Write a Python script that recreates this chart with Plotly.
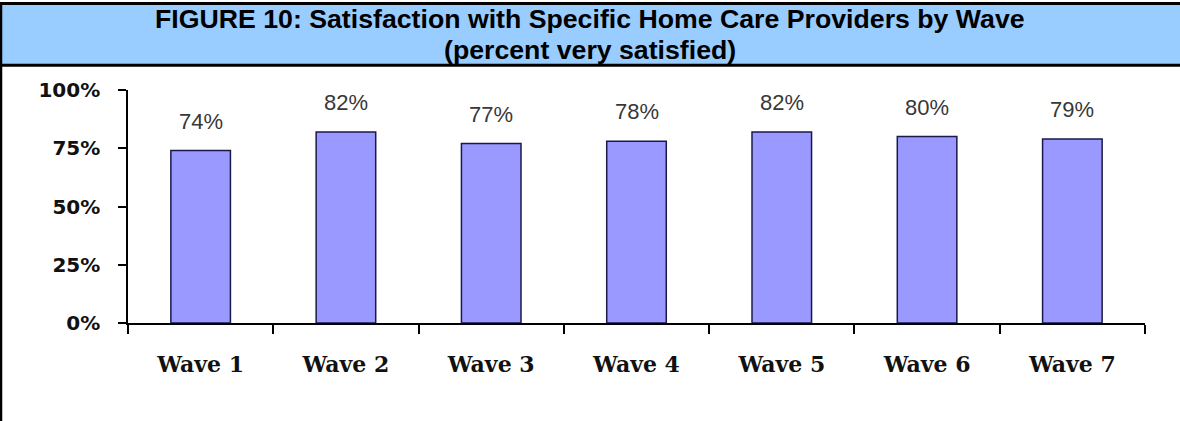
import plotly.graph_objects as go

categories = ["Wave 1", "Wave 2", "Wave 3", "Wave 4", "Wave 5", "Wave 6", "Wave 7"]
values = [74, 82, 77, 78, 82, 80, 79]
value_labels = ["74%", "82%", "77%", "78%", "82%", "80%", "79%"]
y_ticks = [0, 25, 50, 75, 100]
y_tick_labels = ["0%", "25%", "50%", "75%", "100%"]
title_line1 = "FIGURE 10: Satisfaction with Specific Home Care Providers by Wave"
title_line2 = "(percent very satisfied)"

W, H = 1180, 421
L, R, T, B = 128, 35, 90, 98
pw = W - L - R
ph = H - T - B


def px(x):
    return (x - L) / pw


def py(y):
    return (H - B - y) / ph


fig = go.Figure()
fig.add_trace(go.Bar(
    x=categories, y=values,
    marker=dict(color="#9999FF", line=dict(color="#1a1a4a", width=1.5)),
    width=0.41,
    hoverinfo="skip",
))

annotations = []
for c, v, t in zip(categories, values, value_labels):
    annotations.append(dict(
        x=c, y=v, xref="x", yref="y", text=t, showarrow=False,
        yanchor="bottom", yshift=15,
        font=dict(family="Liberation Sans", size=22, color="#383838"),
    ))

annotations.append(dict(
    x=px(590), y=py(19), xref="paper", yref="paper", text="<b>" + title_line1 + "</b>",
    showarrow=False, xanchor="center", yanchor="middle",
    font=dict(family="Liberation Sans", size=26.7, color="#000000"),
))
annotations.append(dict(
    x=px(590), y=py(50), xref="paper", yref="paper", text="<b>" + title_line2 + "</b>",
    showarrow=False, xanchor="center", yanchor="middle",
    font=dict(family="Liberation Sans", size=26.7, color="#000000"),
))

shapes = [
    dict(type="rect", xref="paper", yref="paper",
         x0=px(1), x1=px(1300), y0=py(65), y1=py(4),
         fillcolor="#99CCFF", line=dict(width=0), layer="below"),
    dict(type="line", xref="paper", yref="paper",
         x0=px(0), x1=px(1300), y0=py(3.5), y1=py(3.5),
         line=dict(color="#000000", width=3)),
    dict(type="line", xref="paper", yref="paper",
         x0=px(0), x1=px(1300), y0=py(65.3), y1=py(65.3),
         line=dict(color="#000000", width=3)),
    dict(type="line", xref="paper", yref="paper",
         x0=px(1), x1=px(1), y0=py(2), y1=py(430),
         line=dict(color="#000000", width=2.5)),
]

fig.update_layout(
    width=W, height=H,
    margin=dict(l=L, r=R, t=T, b=B, autoexpand=False),
    paper_bgcolor="#FFFFFF", plot_bgcolor="#FFFFFF",
    showlegend=False,
    bargap=0.59,
    annotations=annotations,
    shapes=shapes,
    xaxis=dict(
        type="category", showgrid=False, zeroline=False,
        showline=True, linecolor="#000000", linewidth=1.5,
        ticks="outside", tickson="boundaries", ticklen=9, tickwidth=1.5, tickcolor="#000000",
        tickfont=dict(family="DejaVu Serif", size=22, color="#111111", weight="bold"),
        ticklabelstandoff=21,
        fixedrange=True,
    ),
    yaxis=dict(
        range=[0, 100], showgrid=False, zeroline=False,
        showline=True, linecolor="#000000", linewidth=1.5,
        ticks="outside", ticklen=8, tickwidth=1.5, tickcolor="#000000",
        tickvals=y_ticks, ticktext=y_tick_labels,
        tickfont=dict(family="DejaVu Sans", size=20, color="#111111", weight="bold"),
        ticklabelstandoff=14,
        fixedrange=True,
    ),
)

fig.write_html("out.html", config={"displayModeBar": False})
